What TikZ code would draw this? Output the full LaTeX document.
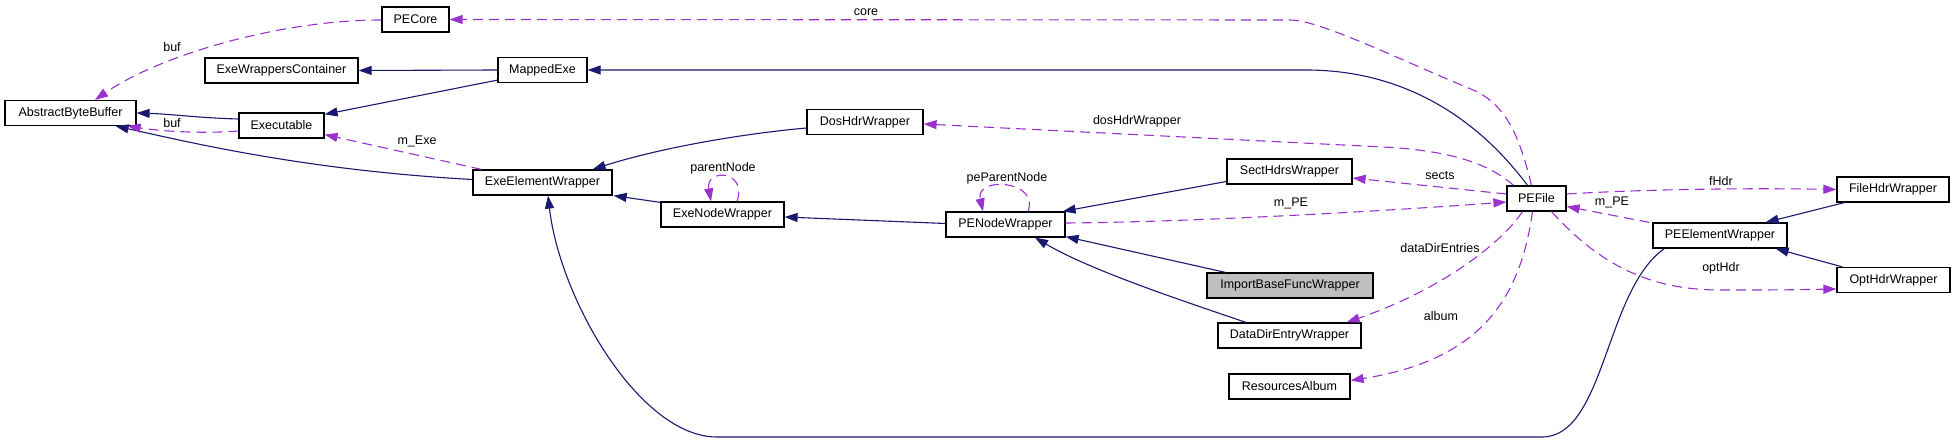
\documentclass[tikz,border=0pt]{standalone}
\usepackage{fontspec}
\setmainfont{Liberation Sans}
\usetikzlibrary{arrows.meta}
\definecolor{inhcol}{HTML}{191970}
\definecolor{usecol}{HTML}{9A32CD}
\definecolor{selfill}{HTML}{BFBFBF}
\begin{document}
\begin{tikzpicture}[x=1pt,y=-1pt,
  box/.style={draw=black, line width=1.2pt, minimum height=25pt, inner sep=0pt, font=\fontsize{12.5}{14}\selectfont, fill=white},
  inh/.style={color=inhcol, line width=1.1pt, -{Triangle[length=13pt,width=9pt]}},
  use/.style={color=usecol, line width=1.1pt, dash pattern=on 10pt off 6pt, -{Triangle[length=13pt,width=9pt]}},
  lbl/.style={font=\fontsize{12.5}{14}\selectfont, inner sep=1pt, text=black}]
\useasboundingbox (0,0) rectangle (1955,443);
% nodes
\node[box, minimum width=131pt] (abb) at (70.5,113) {AbstractByteBuffer};
\node[box, minimum width=85pt] (exe) at (281.5,125.5) {Executable};
\node[box, minimum width=153pt] (ewc) at (281.5,70.5) {ExeWrappersContainer};
\node[box, minimum width=67pt] (pecore) at (415.5,19.5) {PECore};
\node[box, minimum width=89pt] (mapped) at (542.5,70) {MappedExe};
\node[box, minimum width=116pt] (dos) at (865,122) {DosHdrWrapper};
\node[box, minimum width=139pt] (eew) at (542.5,182.5) {ExeElementWrapper};
\node[box, minimum width=123pt] (enw) at (722.5,214.5) {ExeNodeWrapper};
\node[box, minimum width=119pt] (pnw) at (1005.5,224.5) {PENodeWrapper};
\node[box, minimum width=125pt] (shw) at (1289.5,171.5) {SectHdrsWrapper};
\node[box, minimum width=59pt] (pefile) at (1536.5,198.5) {PEFile};
\node[box, minimum width=166pt, fill=selfill] (ibfw) at (1290,285.5) {ImportBaseFuncWrapper};
\node[box, minimum width=143pt] (ddew) at (1289.5,335.5) {DataDirEntryWrapper};
\node[box, minimum width=121pt] (ra) at (1289.5,386.5) {ResourcesAlbum};
\node[box, minimum width=112pt] (fhw) at (1893,189.5) {FileHdrWrapper};
\node[box, minimum width=134pt] (peew) at (1720,235.5) {PEElementWrapper};
\node[box, minimum width=113pt] (ohw) at (1893.5,280) {OptHdrWrapper};
% inheritance edges
\draw[inh] ([shift={(0,-6.5)}]exe.west) .. controls (200,118) and (170,114) .. (abb.east);
\draw[inh] ([shift={(0,-3)}]eew.west) .. controls (300,170) and (180,140) .. ([shift={(-21,0)}]abb.south east);
\draw[inh] (mapped.west) -- (ewc.east);
\draw[inh] ([shift={(0,-3)}]mapped.south west) -- ([shift={(0,2)}]exe.north east);
\draw[inh] ([shift={(-9,0)}]pefile.north) .. controls (1490,135) and (1420,70) .. (1306,70) -- (mapped.east);
\draw[inh] ([shift={(0,6)}]dos.west) .. controls (740,134) and (660,148) .. ([shift={(-20,0)}]eew.north east);
\draw[inh] ([shift={(0,1)}]enw.north west) -- ([shift={(1,0)}]eew.south east);
\draw[inh] ([shift={(0,-1)}]pnw.west) -- ([shift={(0,2.5)}]enw.east);
\draw[inh] ([shift={(0,10)}]shw.west) -- ([shift={(-3,0)}]pnw.north east);
\draw[inh] ([shift={(19,0)}]ibfw.north west) -- ([shift={(0,-1)}]pnw.south east);
\draw[inh] ([shift={(-43.5,0)}]ddew.north) .. controls (1180,300) and (1090,270) .. ([shift={(29.5,0)}]pnw.south);
\draw[inh] ([shift={(8,0)}]fhw.south west) -- ([shift={(-22,0)}]peew.north east);
\draw[inh] ([shift={(6,0)}]ohw.north west) -- ([shift={(-12,0)}]peew.south east);
\draw[inh] ([shift={(12,0)}]peew.south west) .. controls (1605,290) and (1605,437) .. (1542,437) -- (717,437) .. controls (640,437) and (560,300) .. ([shift={(5.5,0)}]eew.south);
% usage edges
\draw[use] ([shift={(0,0.5)}]pecore.west) .. controls (280,20) and (160,55) .. ([shift={(24.5,0)}]abb.north);
\draw[use] ([shift={(0,5.5)}]exe.west) .. controls (200,134) and (160,131) .. ([shift={(-9,0)}]abb.south east);
\draw[use] ([shift={(9,0)}]eew.north west) -- ([shift={(0,-4)}]exe.south east);
\draw[use] ([shift={(14.5,0)}]enw.north) .. controls (748,170) and (705,168) .. ([shift={(-11.5,0)}]enw.north);
\draw[use] ([shift={(22.5,0)}]pnw.north) .. controls (1040,180) and (975,176) .. ([shift={(-22.5,0)}]pnw.north);
\draw[use] ([shift={(-5,0)}]pefile.north) .. controls (1518,130) and (1505,108) .. (1478,92) .. controls (1400,60) and (1320,20) .. (1290,20) -- (pecore.east);
\draw[use] ([shift={(-23,0)}]pefile.north) .. controls (1485,160) and (1440,150) .. (1383,147) -- ([shift={(0,2)}]dos.east);
\draw[use] ([shift={(0,-4.5)}]pefile.west) -- ([shift={(0,6.5)}]shw.east);
\draw[use] ([shift={(0,-1.5)}]pnw.east) .. controls (1200,222) and (1400,210) .. ([shift={(0,3.5)}]pefile.west);
\draw[use] ([shift={(0,-4.5)}]pefile.east) .. controls (1650,189) and (1750,188) .. (fhw.west);
\draw[use] ([shift={(-3,0)}]peew.north west) -- ([shift={(0,8)}]pefile.east);
\draw[use] ([shift={(15,0)}]pefile.south) .. controls (1600,265) and (1650,290) .. (1720,290) .. controls (1780,290) .. ([shift={(0,9)}]ohw.west);
\draw[use] ([shift={(-14,0)}]pefile.south) .. controls (1500,245) and (1440,290) .. ([shift={(-15,0)}]ddew.north east);
\draw[use] ([shift={(-4,0)}]pefile.south) .. controls (1520,300) and (1480,360) .. ([shift={(0,-6)}]ra.east);
% labels
\node[lbl] (l1) at (172,47) {buf};
\node[lbl] (l2) at (172,123) {buf};
\node[lbl] (l3) at (417,141) {m\_Exe};
\node[lbl] (l4) at (866,12) {core};
\node[lbl] (l5) at (1137,121) {dosHdrWrapper};
\node[lbl] (l6) at (723,168) {parentNode};
\node[lbl] (l7) at (1007,178) {peParentNode};
\node[lbl] (l8) at (1440,176) {sects};
\node[lbl] (l9) at (1291,203) {m\_PE};
\node[lbl] (l10) at (1440,248) {dataDirEntries};
\node[lbl] (l11) at (1441,316) {album};
\node[lbl] (l12) at (1721,181) {fHdr};
\node[lbl] (l13) at (1612,202) {m\_PE};
\node[lbl] (l14) at (1721,268) {optHdr};
\end{tikzpicture}
\end{document}
